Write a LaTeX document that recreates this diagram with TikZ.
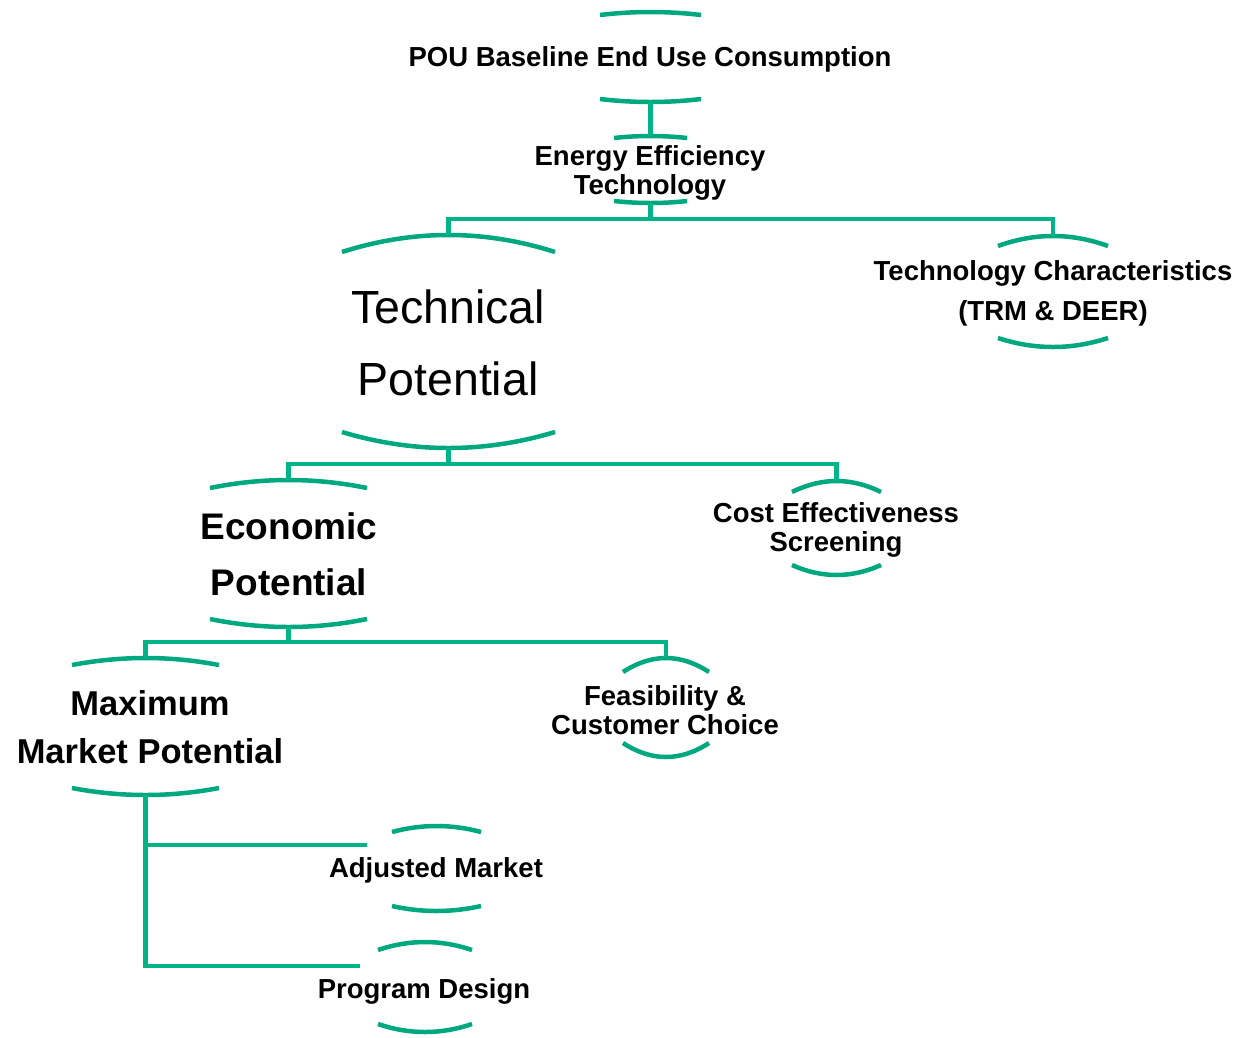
\documentclass[tikz,border=0pt]{standalone}
\usepackage{fontspec}
\setmainfont{Liberation Sans}
\definecolor{arcgreen}{RGB}{0,168,128}
\definecolor{linegreen}{RGB}{0,180,135}
\tikzset{
  arcline/.style={draw=arcgreen, line width=4.5pt, line cap=butt},
  conn/.style={draw=linegreen, line width=4.2pt, line join=miter},
  lblsmall/.style={font=\bfseries\fontsize{27.5}{29}\selectfont, align=center, inner sep=0pt, text=black},
  lblmid/.style={font=\bfseries\fontsize{34.5}{48}\selectfont, align=center, inner sep=0pt, text=black},
  lblbig/.style={font=\bfseries\fontsize{37}{56}\selectfont, align=center, inner sep=0pt, text=black},
  lblhuge/.style={font=\fontsize{46.5}{72}\selectfont, align=center, inner sep=0pt, text=black},
}
\newcommand{\arcpair}[7]{%
  \draw[arcline] (#2,#4) .. controls ({#2+(#3-#2)/3},{#4+4/3*(#5-#4)}) and ({#3-(#3-#2)/3},{#4+4/3*(#5-#4)}) .. (#3,#4);
  \draw[arcline] (#2,#6) .. controls ({#2+(#3-#2)/3},{#6+4/3*(#7-#6)}) and ({#3-(#3-#2)/3},{#6+4/3*(#7-#6)}) .. (#3,#6);
  \coordinate (#1-t) at ({(#2+#3)/2},#5);
  \coordinate (#1-b) at ({(#2+#3)/2},#7);
}
\begin{document}
\begin{tikzpicture}[x=1pt,y=-1pt]
\useasboundingbox (0,0) rectangle (1239,1037);
% arcs
\arcpair{pou}{600}{701}{15}{12}{99}{102}
\arcpair{eet}{614}{687}{138}{136}{201}{203}
\arcpair{tp}{342}{555}{252}{235}{432}{448}
\arcpair{tc}{998}{1108}{246}{236}{338}{347}
\arcpair{ec}{210}{367}{488}{480}{619}{627}
\arcpair{ce}{792}{881}{492}{481}{565}{575}
\arcpair{mm}{72}{219}{665}{658}{788}{795}
\arcpair{fc}{623}{709}{672}{658}{743}{757}
\arcpair{am}{392}{481}{832}{826}{906}{911}
\arcpair{pd}{378}{472}{950}{942}{1024}{1032}
% text nodes
\node[lblsmall] (pou) at (650,59) {POU Baseline End Use Consumption};
\node[lblsmall] (eet) at (650,173) {Energy Efficiency\\Technology};
\node[lblhuge] (tp) at (448,343) {Technical\\Potential};
\node[lblsmall, font=\bfseries\fontsize{27.5}{40}\selectfont] (tc) at (1053,293) {Technology Characteristics\\(TRM \& DEER)};
\node[lblbig] (ec) at (289,554) {Economic\\Potential};
\node[lblsmall] (ce) at (836,530) {Cost Effectiveness\\Screening};
\node[lblmid] (mm) at (150,727) {Maximum\\Market Potential};
\node[lblsmall] (fc) at (665,710) {Feasibility \&\\Customer Choice};
\node[lblsmall] (am) at (436,870) {Adjusted Market};
\node[lblsmall] (pd) at (424,991) {Program Design};
% connectors
\draw[conn] (pou-b) -- (eet-t);
\draw[conn] (eet-b) -- ++(0,16) -| (tp-t);
\draw[conn] (eet-b) -- ++(0,16) -| (tc-t);
\draw[conn] (tp-b) -- ++(0,16) -| (ec-t);
\draw[conn] (tp-b) -- ++(0,16) -| (ce-t);
\draw[conn] (ec-b) -- ++(0,15) -| (mm-t);
\draw[conn] (ec-b) -- ++(0,15) -| (fc-t);
\coordinate (amend) at (367,845);
\coordinate (pdend) at (360,966);
\draw[conn] (mm-b) |- (pdend);
\draw[conn] (mm-b |- amend) -- (amend);
\end{tikzpicture}
\end{document}
